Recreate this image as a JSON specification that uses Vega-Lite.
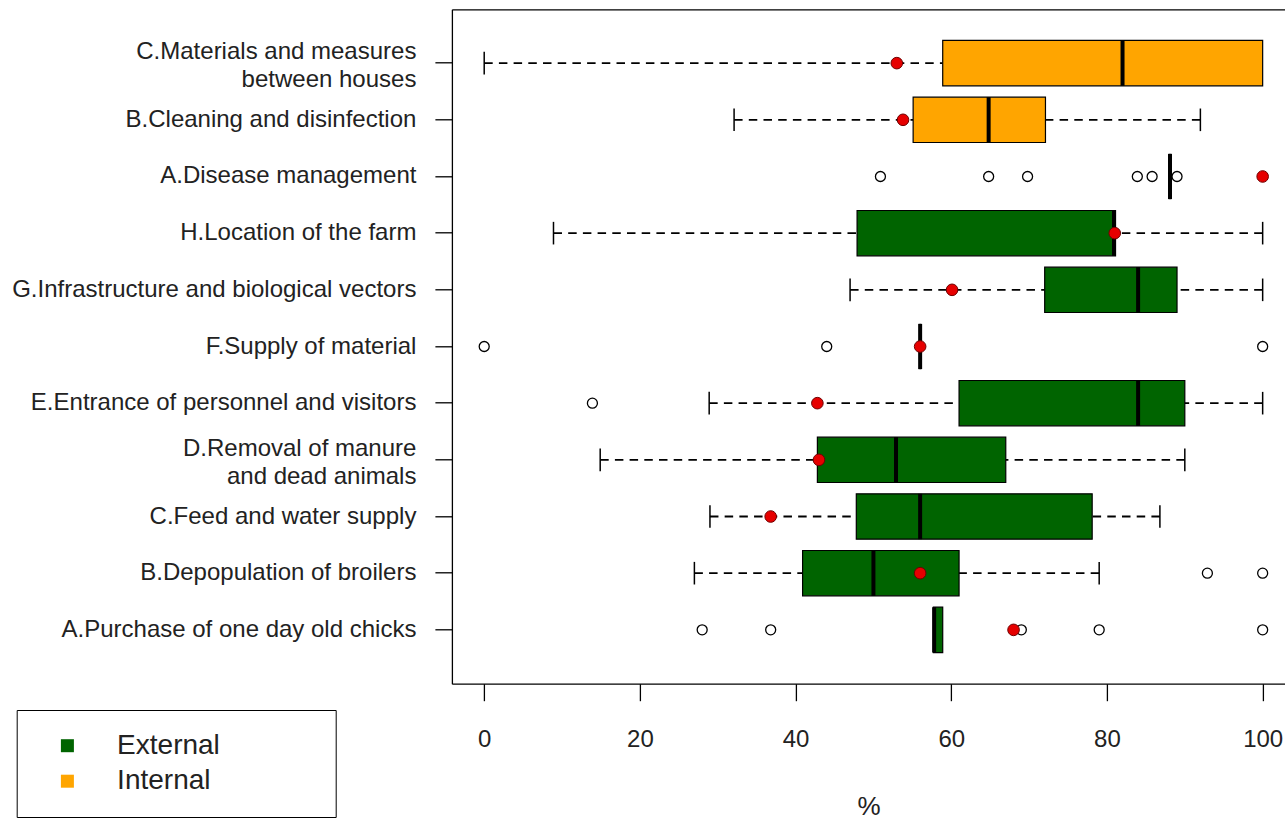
{
  "$schema": "https://vega.github.io/schema/vega-lite/v6.json",
  "width": 833.1,
  "height": 674.4,
  "autosize": "none",
  "padding": {"left": 451.9, "top": 9.3, "right": 0, "bottom": 138.3},
  "background": "white",
  "config": {
    "view": {"stroke": null},
    "font": "Liberation Sans",
    "axis": {"grid": false}
  },
  "datasets": {
    "stats": [
      {"cat": "C.Materials and measures between houses", "type": "Internal", "lo": 0, "q1": 58.9, "med": 82, "q3": 100, "hi": null, "farm": 53},
      {"cat": "B.Cleaning and disinfection", "type": "Internal", "lo": 32.1, "q1": 55.1, "med": 64.8, "q3": 72.1, "hi": 92, "farm": 53.8},
      {"cat": "A.Disease management", "type": "Internal", "lo": null, "q1": 88.1, "med": 88.1, "q3": 88.1, "hi": null, "farm": 100},
      {"cat": "H.Location of the farm", "type": "External", "lo": 8.9, "q1": 47.9, "med": 80.9, "q3": 81.1, "hi": 100, "farm": 81},
      {"cat": "G.Infrastructure and biological vectors", "type": "External", "lo": 47, "q1": 72, "med": 84, "q3": 89, "hi": 100, "farm": 60.1},
      {"cat": "F.Supply of material", "type": "External", "lo": null, "q1": 56, "med": 56, "q3": 56, "hi": null, "farm": 56},
      {"cat": "E.Entrance of personnel and visitors", "type": "External", "lo": 28.9, "q1": 61, "med": 84, "q3": 90, "hi": 100, "farm": 42.8},
      {"cat": "D.Removal of manure and dead animals", "type": "External", "lo": 14.9, "q1": 42.8, "med": 52.9, "q3": 67, "hi": 90, "farm": 43},
      {"cat": "C.Feed and water supply", "type": "External", "lo": 29, "q1": 47.8, "med": 56, "q3": 78.1, "hi": 86.8, "farm": 36.8},
      {"cat": "B.Depopulation of broilers", "type": "External", "lo": 27, "q1": 40.9, "med": 50, "q3": 61, "hi": 79, "farm": 56},
      {"cat": "A.Purchase of one day old chicks", "type": "External", "lo": null, "q1": 57.7, "med": 57.8, "q3": 58.9, "hi": null, "farm": 68}
    ],
    "outliers": [
      {"cat": "A.Disease management", "value": 50.9},
      {"cat": "A.Disease management", "value": 64.8},
      {"cat": "A.Disease management", "value": 69.8},
      {"cat": "A.Disease management", "value": 83.9},
      {"cat": "A.Disease management", "value": 85.8},
      {"cat": "A.Disease management", "value": 89.0},
      {"cat": "F.Supply of material", "value": 0},
      {"cat": "F.Supply of material", "value": 44},
      {"cat": "F.Supply of material", "value": 100},
      {"cat": "E.Entrance of personnel and visitors", "value": 13.9},
      {"cat": "B.Depopulation of broilers", "value": 92.9},
      {"cat": "B.Depopulation of broilers", "value": 100},
      {"cat": "A.Purchase of one day old chicks", "value": 28},
      {"cat": "A.Purchase of one day old chicks", "value": 36.8},
      {"cat": "A.Purchase of one day old chicks", "value": 69},
      {"cat": "A.Purchase of one day old chicks", "value": 79},
      {"cat": "A.Purchase of one day old chicks", "value": 100}
    ]
  },
  "encoding": {
    "y": {
      "field": "cat",
      "type": "nominal",
      "sort": null,
      "scale": {
        "domain": ["C.Materials and measures between houses", "B.Cleaning and disinfection", "A.Disease management", "H.Location of the farm", "G.Infrastructure and biological vectors", "F.Supply of material", "E.Entrance of personnel and visitors", "D.Removal of manure and dead animals", "C.Feed and water supply", "B.Depopulation of broilers", "A.Purchase of one day old chicks"],
        "paddingInner": 0,
        "paddingOuter": 0.45
      },
      "axis": {
        "title": null,
        "domainColor": "black",
        "domainWidth": 1.3,
        "tickColor": "black",
        "tickWidth": 1.3,
        "tickSize": 17,
        "labelFontSize": 24,
        "labelColor": "#222222",
        "labelPadding": 19,
        "labelLimit": 0,
        "labelOverlap": false,
        "labelLineHeight": 28,
        "labelOffset": {"condition": {"test": "datum.value == 'C.Materials and measures between houses' || datum.value == 'D.Removal of manure and dead animals'", "value": -11}, "value": 0},
        "labelExpr": "datum.value == 'C.Materials and measures between houses' ? ['C.Materials and measures ', 'between houses'] : datum.value == 'D.Removal of manure and dead animals' ? ['D.Removal of manure ', 'and dead animals'] : datum.value"
      }
    }
  },
  "layer": [
    {
      "data": {"name": "stats"},
      "mark": {"type": "rule", "color": "black", "strokeWidth": 1.8, "strokeDash": [8.5, 6.2]},
      "encoding": {
        "x": {"field": "lo", "type": "quantitative", "scale": {"domain": [-4.15, 102.87], "nice": false, "zero": false}, "axis": null},
        "x2": {"field": "q1"}
      }
    },
    {
      "data": {"name": "stats"},
      "mark": {"type": "rule", "color": "black", "strokeWidth": 1.8, "strokeDash": [8.5, 6.2]},
      "encoding": {
        "x": {"field": "hi", "type": "quantitative", "scale": {"domain": [-4.15, 102.87], "nice": false, "zero": false}, "axis": null},
        "x2": {"field": "q3"}
      }
    },
    {
      "data": {"name": "stats"},
      "mark": {"type": "tick", "color": "black", "thickness": 1.5, "size": 22.6, "opacity": 1},
      "encoding": {
        "x": {"field": "lo", "type": "quantitative", "scale": {"domain": [-4.15, 102.87], "nice": false, "zero": false}, "axis": null}
      }
    },
    {
      "data": {"name": "stats"},
      "mark": {"type": "tick", "color": "black", "thickness": 1.5, "size": 22.6, "opacity": 1},
      "encoding": {
        "x": {"field": "hi", "type": "quantitative", "scale": {"domain": [-4.15, 102.87], "nice": false, "zero": false}, "axis": null}
      }
    },
    {
      "data": {"name": "stats"},
      "mark": {"type": "bar", "height": {"band": 0.8}, "stroke": "black", "strokeWidth": 1.2, "opacity": 1},
      "encoding": {
        "x": {
          "field": "q1",
          "type": "quantitative",
          "scale": {"domain": [-4.15, 102.87], "nice": false, "zero": false},
          "axis": {
            "orient": "bottom",
            "values": [0, 20, 40, 60, 80, 100],
            "domainColor": "black",
            "domainWidth": 1.3,
            "tickColor": "black",
            "tickWidth": 1.3,
            "tickSize": 17,
            "labelFontSize": 24,
            "labelColor": "#222222",
            "labelPadding": 27,
            "labelFlush": false,
            "title": "%",
            "titleFontSize": 26,
            "titleFontWeight": "normal",
            "titleColor": "#222222",
            "titlePadding": 42
          }
        },
        "x2": {"field": "q3"},
        "color": {
          "field": "type",
          "type": "nominal",
          "scale": {"domain": ["External", "Internal"], "range": ["#006400", "#FFA500"]},
          "legend": {
            "title": null,
            "orient": "none",
            "legendX": -435.2,
            "legendY": 700.7,
            "strokeColor": "black",
            "padding": 21.7,
            "symbolType": "square",
            "symbolSize": 169,
            "symbolStrokeWidth": 0,
            "symbolOpacity": 1,
            "symbolOffset": 15,
            "labelOffset": 35.7,
            "labelFontSize": 28,
            "labelColor": "#222222",
            "labelLimit": 400,
            "rowPadding": 7.5,
            "labelExpr": "datum.label + '            \u200b'"
          }
        }
      }
    },
    {
      "data": {"name": "stats"},
      "mark": {"type": "tick", "color": "black", "thickness": 4, "size": 45.3, "opacity": 1},
      "encoding": {
        "x": {"field": "med", "type": "quantitative", "scale": {"domain": [-4.15, 102.87], "nice": false, "zero": false}, "axis": {"orient": "top", "labels": false, "ticks": false, "domainColor": "black", "domainWidth": 1.3, "title": null, "grid": false}}
      }
    },
    {
      "data": {"name": "outliers"},
      "mark": {"type": "point", "shape": "circle", "filled": false, "fill": "white", "stroke": "black", "strokeWidth": 1.3, "size": 100, "opacity": 1},
      "encoding": {
        "x": {"field": "value", "type": "quantitative", "scale": {"domain": [-4.15, 102.87], "nice": false, "zero": false}, "axis": null}
      }
    },
    {
      "data": {"name": "stats"},
      "mark": {"type": "point", "shape": "circle", "filled": true, "fill": "#E60000", "stroke": "#700000", "strokeWidth": 1, "size": 135, "opacity": 1},
      "encoding": {
        "x": {"field": "farm", "type": "quantitative", "scale": {"domain": [-4.15, 102.87], "nice": false, "zero": false}, "axis": null}
      }
    }
  ]
}
